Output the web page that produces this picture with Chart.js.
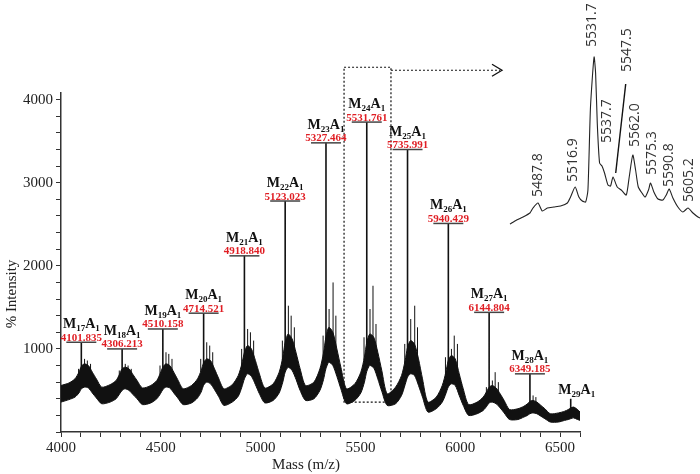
<!DOCTYPE html>
<html>
<head>
<meta charset="utf-8">
<script src="https://cdn.jsdelivr.net/npm/chart.js@4.4.1/dist/chart.umd.min.js"></script>
<style>
  html, body { margin: 0; padding: 0; background: #fff; }
  #wrap { position: relative; width: 700px; height: 474px; }
  #main { position: absolute; left: 0; top: 0; }
  #inset { position: absolute; left: 505px; top: 0; }
</style>
</head>
<body>
<div id="wrap">
  <canvas id="main" width="700" height="474"></canvas>
  <canvas id="inset" width="195" height="230"></canvas>
</div>
<script>
// Spectrum band (upper / lower edge of the noisy trace)
const massPts = [4000, 4040, 4070, 4090, 4102, 4117, 4137, 4157, 4177, 4204,
  4246, 4276, 4294, 4306, 4321, 4341, 4361, 4381, 4408,
  4450, 4480, 4498, 4510, 4525, 4545, 4565, 4585, 4612,
  4654, 4684, 4702, 4714, 4729, 4749, 4769, 4789, 4816,
  4858, 4888, 4906, 4919, 4934, 4954, 4974, 4994, 5021,
  5063, 5093, 5111, 5123, 5138, 5158, 5178, 5198, 5225,
  5267, 5297, 5315, 5327, 5342, 5362, 5382, 5402, 5430,
  5472, 5502, 5520, 5532, 5547, 5567, 5587, 5607, 5634,
  5676, 5706, 5724, 5736, 5751, 5771, 5791, 5811, 5838,
  5880, 5910, 5928, 5940, 5955, 5975, 5995, 6015, 6042,
  6085, 6115, 6133, 6145, 6160, 6180, 6200, 6220, 6247,
  6289, 6319, 6337, 6349, 6364, 6384, 6404, 6424, 6451,
  6493, 6523, 6541, 6553, 6568, 6588, 6600];
const upperPts = [560, 590, 640, 720, 790, 820, 800, 720, 640, 540,
  570, 620, 700, 760, 780, 760, 690, 620, 530,
  560, 620, 710, 780, 820, 800, 720, 630, 520,
  560, 640, 740, 830, 880, 860, 760, 650, 520,
  570, 680, 820, 960, 1040, 1000, 860, 700, 530,
  580, 720, 900, 1080, 1180, 1120, 950, 760, 560,
  600, 760, 950, 1140, 1260, 1200, 1000, 780, 520,
  580, 720, 900, 1080, 1180, 1140, 960, 740, 460,
  540, 680, 860, 1020, 1100, 1060, 880, 640, 360,
  420, 560, 720, 860, 920, 880, 700, 520, 330,
  360, 420, 490, 540, 560, 530, 460, 380, 270,
  280, 310, 340, 370, 380, 360, 320, 280, 220,
  230, 250, 270, 290, 300, 270, 240];
const lowerPts = [360, 390, 420, 470, 520, 540, 530, 470, 410, 340,
  360, 400, 460, 500, 520, 500, 450, 400, 330,
  350, 400, 460, 510, 540, 530, 470, 410, 330,
  350, 410, 480, 560, 600, 580, 510, 430, 320,
  360, 430, 540, 640, 700, 670, 570, 460, 350,
  380, 470, 600, 720, 780, 740, 630, 500, 380,
  400, 500, 630, 760, 840, 800, 670, 520, 340,
  380, 470, 600, 730, 800, 770, 640, 490, 320,
  340, 440, 570, 660, 700, 680, 560, 420, 240,
  280, 360, 460, 540, 580, 560, 440, 320, 200,
  220, 260, 310, 350, 360, 340, 290, 230, 150,
  150, 180, 200, 220, 230, 220, 190, 160, 120,
  120, 140, 150, 160, 170, 150, 140];

// Labelled main peaks M17A1 ... M29A1
const peakN = [17, 18, 19, 20, 21, 22, 23, 24, 25, 26, 27, 28, 29];
const peakMass = [4101.835, 4306.213, 4510.158, 4714.521, 4918.840, 5123.023, 5327.464,
  5531.761, 5735.991, 5940.429, 6144.804, 6349.185, 6553.5];
const peakText = ['4101.835', '4306.213', '4510.158', '4714.521', '4918.840', '5123.023', '5327.464',
  '5531.761', '5735.991', '5940.429', '6144.804', '6349.185', ''];
const peakTop = [1080, 1000, 1240, 1430, 2120, 2780, 3480, 3730, 3400, 2510, 1440, 700, 400];
const peakBase = [750, 720, 740, 800, 900, 1020, 1080, 1040, 980, 820, 500, 340, 260];

// Smaller satellite peaks around each cluster
const satMass = [4088, 4118, 4132, 4148, 4292, 4322, 4336, 4352, 4496, 4526, 4540, 4556,
  4700, 4730, 4745, 4760, 4905, 4935, 4949, 4965, 5109, 5139, 5153, 5169,
  5313, 5343, 5363, 5377, 5518, 5548, 5563, 5578, 5722, 5752, 5772, 5786,
  5926, 5956, 5970, 5986, 6131, 6161, 6175, 6191, 6365, 6379, 6570];
const satTop = [760, 880, 860, 820, 740, 820, 800, 760, 800, 960, 940, 880,
  880, 1080, 1040, 960, 1000, 1240, 1200, 1100, 1100, 1520, 1400, 1260,
  1160, 1480, 1800, 1400, 1140, 1480, 1760, 1300, 1060, 1360, 1520, 1260,
  900, 1000, 1160, 1060, 540, 620, 720, 600, 440, 420, 300];
const satBase = [680, 780, 770, 720, 660, 740, 730, 680, 680, 780, 770, 720,
  720, 840, 820, 760, 780, 1000, 980, 880, 860, 1140, 1100, 980,
  900, 1220, 1140, 1000, 860, 1140, 1100, 960, 820, 1060, 1020, 880,
  680, 880, 860, 740, 460, 520, 500, 460, 350, 340, 260];

// Inset: zoom of the M24A1 region
const insetMass = [5465.9, 5471.1, 5476.1, 5481.5, 5483.9, 5487.8, 5491.2, 5495.1, 5500.3, 5505.5,
  5510.8, 5513.3, 5516.9, 5519.8, 5522.5, 5525.1, 5526.9, 5528.9, 5531.7, 5532.9,
  5534.2, 5536.0, 5537.9, 5539.9, 5542.6, 5544.6, 5546.5, 5549.8, 5553.0, 5556.9,
  5559.2, 5562.0, 5564.2, 5566.3, 5569.2, 5571.7, 5574.3, 5575.9, 5578.5, 5581.7,
  5585.6, 5588.2, 5590.5, 5593.4, 5597.3, 5601.2, 5605.2, 5609.1, 5613.0, 5614.6];
const insetInt = [1, 5, 8, 12, 17, 22, 14, 17, 18, 19,
  22, 28, 38, 28, 24, 23, 35, 118, 168, 152,
  102, 62, 59, 52, 40, 39, 48, 38, 35, 30,
  48, 70, 55, 38, 32, 28, 35, 42, 33, 26,
  25, 30, 36, 27, 18, 13, 17, 12, 8, 7];
const insetLabels = ['5487.8', '5516.9', '5531.7', '5537.7', '5547.5', '5562.0', '5575.3', '5590.8', '5605.2'];

// layout of annotations (pixels)
const insetLabelDx = [0, -2, -2, 5, 13, 2, 2, -1, 1];
const insetLabelBottom = [197, 182, 47, 143, 72, 147, 175, 187, 202];
const zoomBox = { x0: 5418, x1: 5653, y0: 360, y1: 4390 };

function sticks(xs, lo, hi) {
  const out = [];
  xs.forEach((m, i) => {
    out.push({ x: m, y: lo[i] }, { x: m, y: hi[i] }, { x: m, y: null });
  });
  return out;
}

function drawPeakName(ctx, n, cx, baseY) {
  const big = 'bold 14px "Liberation Serif"';
  const small = 'bold 9px "Liberation Serif"';
  const parts = [['M', big, 0], [String(n), small, 3], ['A', big, 0], ['1', small, 3]];
  let w = 0;
  parts.forEach(p => { ctx.font = p[1]; w += ctx.measureText(p[0]).width; });
  let x = cx - w / 2;
  ctx.textAlign = 'left';
  ctx.textBaseline = 'alphabetic';
  ctx.fillStyle = '#111';
  parts.forEach(p => {
    ctx.font = p[1];
    ctx.fillText(p[0], x, baseY + p[2]);
    x += ctx.measureText(p[0]).width;
  });
}

const annotations = {
  id: 'annotations',
  afterDraw(chart) {
    const ctx = chart.ctx;
    const xs = chart.scales.x, ys = chart.scales.y;
    ctx.save();

    // dotted zoom box and arrow
    const bx0 = xs.getPixelForValue(zoomBox.x0), bx1 = xs.getPixelForValue(zoomBox.x1);
    const by0 = ys.getPixelForValue(zoomBox.y0), by1 = ys.getPixelForValue(zoomBox.y1);
    ctx.strokeStyle = '#111';
    ctx.lineWidth = 1.2;
    ctx.setLineDash([2, 2]);
    ctx.strokeRect(bx0, by1, bx1 - bx0, by0 - by1);
    const ay = by1 + 3;
    ctx.beginPath();
    ctx.moveTo(bx1, ay);
    ctx.lineTo(500, ay);
    ctx.stroke();
    ctx.setLineDash([]);
    ctx.lineWidth = 1.3;
    ctx.beginPath();
    ctx.moveTo(492, ay - 6);
    ctx.lineTo(502, ay);
    ctx.lineTo(492, ay + 6);
    ctx.stroke();

    // peak labels
    peakN.forEach((n, i) => {
      const x = xs.getPixelForValue(peakMass[i]);
      const y = ys.getPixelForValue(peakTop[i]);
      if (peakText[i]) {
        ctx.strokeStyle = '#444';
        ctx.lineWidth = 1.5;
        ctx.beginPath();
        ctx.moveTo(x - 15, y);
        ctx.lineTo(x + 15, y);
        ctx.stroke();
        ctx.fillStyle = '#e01e24';
        ctx.font = 'bold 11px "Liberation Serif"';
        ctx.textAlign = 'center';
        ctx.textBaseline = 'alphabetic';
        ctx.fillText(peakText[i], x, y - 1.5);
        drawPeakName(ctx, n, x, y - 14);
      } else {
        drawPeakName(ctx, n, x + 6, y - 5);
      }
    });

    // axis titles
    ctx.fillStyle = '#222';
    ctx.font = '15px "Liberation Serif"';
    ctx.textAlign = 'center';
    ctx.textBaseline = 'middle';
    ctx.fillText('Mass (m/z)', 306, 465);
    ctx.translate(12, 294);
    ctx.rotate(-Math.PI / 2);
    ctx.fillText('% Intensity', 0, 0);
    ctx.restore();
  }
};

const tickFont = { family: 'Liberation Serif', size: 15 };

new Chart(document.getElementById('main'), {
  type: 'line',
  data: {
    datasets: [
      { data: massPts.map((m, i) => ({ x: m, y: upperPts[i] })), borderColor: '#111', backgroundColor: '#111',
        borderWidth: 1, fill: '+1', pointRadius: 0, tension: 0.25 },
      { data: massPts.map((m, i) => ({ x: m, y: lowerPts[i] })), borderColor: '#111',
        borderWidth: 1, fill: false, pointRadius: 0, tension: 0.25 },
      { data: sticks(satMass, satBase, satTop), borderColor: '#111', borderWidth: 1,
        pointRadius: 0, spanGaps: false, fill: false },
      { data: sticks(peakMass, peakBase, peakTop), borderColor: '#111', borderWidth: 1.6,
        pointRadius: 0, spanGaps: false, fill: false }
    ]
  },
  options: {
    responsive: false,
    animation: false,
    devicePixelRatio: 1,
    layout: { padding: { left: 0, right: 120, top: 93, bottom: 0 } },
    plugins: { legend: { display: false }, tooltip: { enabled: false } },
    scales: {
      x: {
        type: 'linear', min: 4000, max: 6600,
        afterFit(s) { s.height = 42; },
        border: { color: '#333', width: 1.5 },
        grid: { drawOnChartArea: false, tickLength: 5, color: '#333' },
        ticks: { stepSize: 100, autoSkip: false, maxRotation: 0, includeBounds: false, padding: 2,
          color: '#222', font: tickFont,
          callback: v => (v % 500 === 0 ? String(v) : '') }
      },
      y: {
        min: 0, max: 4080,
        afterFit(s) { s.width = 61; },
        border: { color: '#333', width: 1.5 },
        grid: { drawOnChartArea: false, tickLength: 5, color: '#333' },
        ticks: { stepSize: 200, autoSkip: false, includeBounds: false, padding: 3,
          color: '#222', font: tickFont,
          callback: v => (v > 0 && v % 1000 === 0 ? String(v) : '') }
      }
    }
  },
  plugins: [annotations]
});

const insetText = {
  id: 'insetText',
  afterDraw(chart) {
    const ctx = chart.ctx;
    const xs = chart.scales.x;
    const left = 505;
    ctx.save();
    ctx.fillStyle = '#333';
    ctx.font = '14px "Open Sans"';
    ctx.textAlign = 'left';
    ctx.textBaseline = 'middle';
    insetLabels.forEach((t, i) => {
      const x = xs.getPixelForValue(parseFloat(t)) + insetLabelDx[i];
      ctx.save();
      ctx.translate(x, insetLabelBottom[i]);
      ctx.rotate(-Math.PI / 2);
      ctx.fillText(t, 0, 0);
      ctx.restore();
    });
    // leader line for 5547.5
    ctx.strokeStyle = '#111';
    ctx.lineWidth = 1.4;
    ctx.beginPath();
    ctx.moveTo(615.7 - left, 173);
    ctx.lineTo(625.7 - left, 84);
    ctx.stroke();
    ctx.restore();
  }
};

new Chart(document.getElementById('inset'), {
  type: 'line',
  data: {
    datasets: [{ data: insetMass.map((m, i) => ({ x: m, y: insetInt[i] })), borderColor: '#222',
      borderWidth: 1.1, pointRadius: 0, tension: 0.2, fill: false }]
  },
  options: {
    responsive: false,
    animation: false,
    devicePixelRatio: 1,
    layout: { padding: 0 },
    plugins: { legend: { display: false }, tooltip: { enabled: false } },
    scales: {
      x: { type: 'linear', display: false, min: 5462, max: 5614.6 },
      y: { display: false, min: -5, max: 225 }
    }
  },
  plugins: [insetText]
});
</script>
</body>
</html>
